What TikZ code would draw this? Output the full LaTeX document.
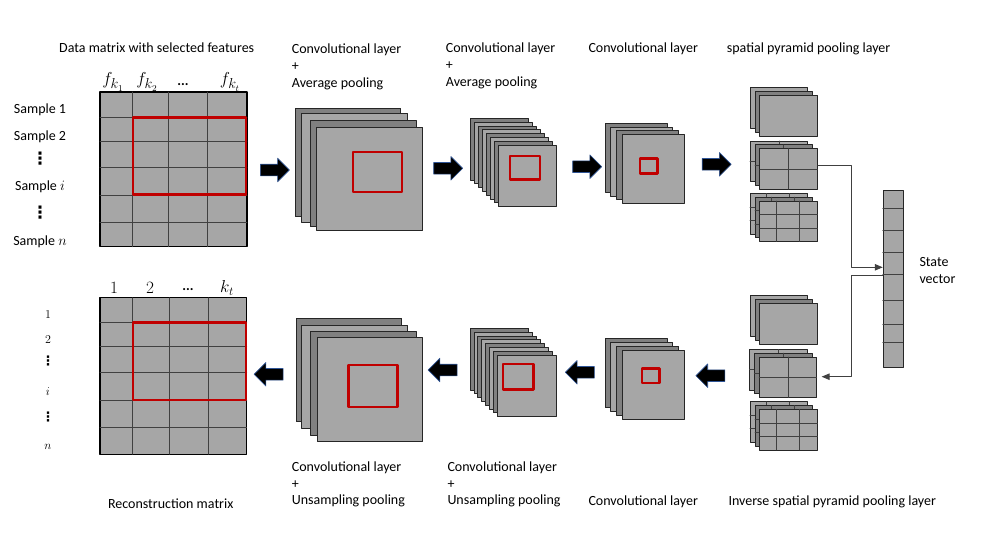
\documentclass[tikz,border=0pt]{standalone}
\usepackage{fontspec}
\setmainfont{Carlito}
\newfontfamily\dotsfont{DejaVu Sans}
\usetikzlibrary{arrows,shapes.arrows}
\definecolor{lightgr}{HTML}{A6A6A6}
\definecolor{darkgr}{HTML}{808080}
\definecolor{boxred}{HTML}{C00000}
\definecolor{arrowrim}{HTML}{2F5597}

\begin{document}
\begin{tikzpicture}[x=1pt,y=-1pt,line cap=round,line join=round,>=triangle 45,
        lbl/.style={font=\fontsize{14}{16.7}\selectfont,inner sep=0pt,align=left},
        mlbl/.style={font=\fontsize{19}{19}\selectfont,inner sep=0pt},
        nlbl/.style={font=\fontsize{17}{17}\selectfont,inner sep=0pt},
        rlbl/.style={font=\fontsize{13}{13}\selectfont,inner sep=0pt},
        vdot/.style={font=\dotsfont\bfseries\fontsize{13}{13}\selectfont,inner sep=0pt},
        sheet/.style={draw=black!85,line width=0.8pt},
        gridln/.style={draw=black!75,line width=0.6pt},
        redbox/.style={draw=boxred,line width=2.4pt},
        link/.style={draw=black!75,line width=0.8pt},
        blockarr/.style={single arrow,draw=arrowrim,fill=black,line width=0.6pt,
            minimum height=29pt,inner xsep=0pt,inner ysep=5.5pt,single arrow head extend=6pt}]
        \useasboundingbox (0,0) rectangle (981,552);

        % data matrix
        \filldraw[fill=lightgr,draw=black,line width=1.3pt] (100,92) rectangle (247,246.7);
        \foreach \ry in {117.3,141.7,167.3,195,222.7} \draw[gridln] (100,\ry) -- (247,\ry);
        \foreach \cx in {132.7,168.3,207.7} \draw[gridln] (\cx,92) -- (\cx,246.7);
        \draw[redbox] (132.7,117.3) rectangle (246,194.3);
        \node[lbl,anchor=west] (tdata) at (59,48) {Data matrix with selected features};
        \node[mlbl] (fk1) at (113,82) {$f_{k_1}$};
        \node[mlbl] (fk2) at (147,82) {$f_{k_2}$};
        \node[lbl] (fdots) at (183,85) {\textbf{...}};
        \node[mlbl] (fkt) at (230,82) {$f_{k_t}$};
        \node[lbl] (s1) at (40,110) {Sample 1};
        \node[lbl] (s2) at (40,137) {Sample 2};
        \node[vdot,font=\dotsfont\bfseries\fontsize{17}{17}\selectfont] (sd1) at (40,159) {⋮};
        \node[lbl] (si) at (40,187) {Sample $i$};
        \node[vdot,font=\dotsfont\bfseries\fontsize{17}{17}\selectfont] (sd2) at (40,213) {⋮};
        \node[lbl] (sn) at (40,242) {Sample $n$};

        % reconstruction matrix
        \filldraw[fill=lightgr,draw=black,line width=1.3pt] (100,297.7) rectangle (246.7,454.3);
        \foreach \ry in {322.3,346.7,372.3,400,427.3} \draw[gridln] (100,\ry) -- (246.7,\ry);
        \foreach \cx in {132.7,169.3,208.3} \draw[gridln] (\cx,297.7) -- (\cx,454.3);
        \draw[redbox] (132.7,322.3) rectangle (246,400);
        \node[lbl,anchor=center] (trec) at (170.7,503.3) {Reconstruction matrix};
        \node[nlbl] (c1) at (114,288) {$1$};
        \node[nlbl] (c2) at (150,288) {$2$};
        \node[lbl] (cdots) at (188,290) {\textbf{...}};
        \node[nlbl] (ckt) at (227,288) {$k_t$};
        \node[rlbl] (r1) at (48,315) {$1$};
        \node[rlbl] (r2) at (48,340) {$2$};
        \node[vdot] (rd1) at (48,361) {⋮};
        \node[rlbl] (ri) at (48,391.7) {$i$};
        \node[vdot] (rd2) at (48,417) {⋮};
        \node[rlbl] (rn) at (48,446.7) {$n$};

        % conv + average pooling (top)
        \filldraw[sheet,fill=darkgr] (295,108.3) rectangle (400.7,216.7);
        \filldraw[sheet,fill=lightgr] (301.7,113.3) rectangle (407.7,222.7);
        \filldraw[sheet,fill=darkgr] (310,120.7) rectangle (416,226.7);
        \filldraw[sheet,fill=lightgr] (316.7,127.3) rectangle (422.7,230.7);
        \draw[redbox] (352.7,151.7) rectangle (401.7,191.7);
        \foreach \i in {0,...,7}{
            \pgfmathsetmacro{\sx}{470.7+3.94*\i}
            \pgfmathsetmacro{\sy}{118.3+3.81*\i}
            \ifodd\i \def\sc{lightgr}\else \def\sc{darkgr}\fi
            \filldraw[sheet,fill=\sc] (\sx,\sy) rectangle ++(57.7,61.7);
        }
        \draw[redbox] (510,155.7) rectangle (540,179.3);
        \foreach \i in {0,...,3}{
            \pgfmathsetmacro{\sx}{605+5.77*\i}
            \pgfmathsetmacro{\sy}{123.3+3.67*\i}
            \ifodd\i \def\sc{lightgr}\else \def\sc{darkgr}\fi
            \filldraw[sheet,fill=\sc] (\sx,\sy) rectangle ++(62,69);
        }
        \draw[redbox] (640,158.3) rectangle (657.3,173.3);

        % conv + unsampling pooling (bottom)
        \filldraw[sheet,fill=darkgr] (296,318.3) rectangle (401.7,421.7);
        \filldraw[sheet,fill=lightgr] (301.7,325) rectangle (407.7,428.3);
        \filldraw[sheet,fill=darkgr] (310,331.7) rectangle (416,435);
        \filldraw[sheet,fill=lightgr] (317.3,337.7) rectangle (422.7,441.7);
        \draw[redbox] (348.3,365) rectangle (397.3,406.7);
        \foreach \i in {0,...,7}{
            \pgfmathsetmacro{\sx}{470+3.9*\i}
            \pgfmathsetmacro{\sy}{328.3+3.81*\i}
            \ifodd\i \def\sc{lightgr}\else \def\sc{darkgr}\fi
            \filldraw[sheet,fill=\sc] (\sx,\sy) rectangle ++(58.7,61.7);
        }
        \draw[redbox] (502.7,364) rectangle (533.3,389.3);
        \foreach \i in {0,...,3}{
            \pgfmathsetmacro{\sx}{605+5.77*\i}
            \pgfmathsetmacro{\sy}{338.3+3.9*\i}
            \ifodd\i \def\sc{lightgr}\else \def\sc{darkgr}\fi
            \filldraw[sheet,fill=\sc] (\sx,\sy) rectangle ++(62,69.3);
        }
        \draw[redbox] (641.7,368.3) rectangle (659.3,382.7);

        % pyramid pooling blocks
        \foreach \bx/\by/\gn in {750/87.7/1,750/141/2,750/193.3/3,750/295.7/1,749.3/349.3/2,750/401.7/3}{
            \foreach \j/\sc in {0/lightgr,1/darkgr,2/lightgr}{
                \pgfmathsetmacro{\sx}{\bx+4.9*\j}
                \pgfmathsetmacro{\sy}{\by+3.8*\j}
                \filldraw[sheet,fill=\sc] (\sx,\sy) rectangle ++(57.7,40.6);
                \ifnum\gn=2
                    \draw[gridln] (\sx+28.8,\sy) -- ++(0,40.6);
                    \draw[gridln] (\sx,\sy+20.3) -- ++(57.7,0);
                \fi
                \ifnum\gn=3
                    \draw[gridln] (\sx+16.7,\sy) -- ++(0,40.6);
                    \draw[gridln] (\sx+39.3,\sy) -- ++(0,40.6);
                    \draw[gridln] (\sx,\sy+13.5) -- ++(57.7,0);
                    \draw[gridln] (\sx,\sy+27) -- ++(57.7,0);
                \fi
            }
        }

        % state vector
        \node[sheet,fill=lightgr,minimum width=20pt,minimum height=176.7pt,inner sep=0pt,anchor=north west] (sv) at (882.7,190) {};
        \foreach \ry in {208.3,230,252.7,274.3,300,324.3,342.7} \draw[gridln] (882.7,\ry) -- (902.7,\ry);
        \node[lbl,anchor=west] (tsv) at (919.3,270.7) {State\\vector};

        \coordinate (bout) at (817.7,165);
        \coordinate (svin) at (882.7,267.3);
        \coordinate (svout) at (882.7,275);
        \coordinate (bin) at (821.7,376.7);
        \draw[link,->] (bout) -- ++(34,0) |- (svin);
        \draw[link,->] (svout) -- ++(-31,0) |- (bin);

        % block arrows
        \node[blockarr] (a1) at (272,170) {};
        \node[blockarr] (a2) at (445.3,168.3) {};
        \node[blockarr] (a3) at (584.3,166.7) {};
        \node[blockarr] (a4) at (713.8,164.3) {};
        \node[blockarr,shape border rotate=180] (b1) at (271.5,374.3) {};
        \node[blockarr,shape border rotate=180] (b2) at (445.5,370) {};
        \node[blockarr,shape border rotate=180] (b3) at (582.7,372.3) {};
        \node[blockarr,shape border rotate=180] (b4) at (713.3,375.7) {};

        % layer captions
        \node[lbl,anchor=west] (tc1) at (291.7,66.7) {Convolutional layer\\+\\Average pooling};
        \node[lbl,anchor=west] (tc2) at (445.7,66) {Convolutional layer\\+\\Average pooling};
        \node[lbl,anchor=west] (tc3) at (588.3,49) {Convolutional layer};
        \node[lbl,anchor=west] (tspp) at (726.7,49) {spatial pyramid pooling layer};
        \node[lbl,anchor=west] (tu1) at (291.7,484.5) {Convolutional layer\\+\\Unsampling pooling};
        \node[lbl,anchor=west] (tu2) at (447.3,484.5) {Convolutional layer\\+\\Unsampling pooling};
        \node[lbl,anchor=west] (tu3) at (588.3,501.7) {Convolutional layer};
        \node[lbl,anchor=west] (tispp) at (728.3,501.7) {Inverse spatial pyramid pooling layer};
        \end{tikzpicture}
\end{document}
